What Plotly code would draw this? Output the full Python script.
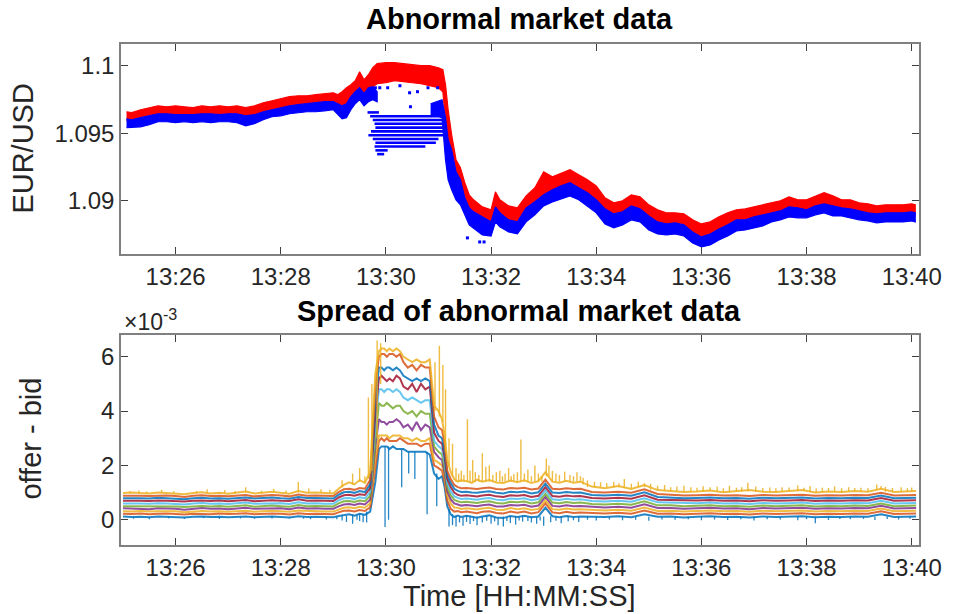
import plotly.graph_objects as go

FONT = "Liberation Sans, Arial, Helvetica, sans-serif"
SESSION_START = "13:25:00"          # time origin of every *_t array (seconds)
time_tick_labels = ["13:26", "13:28", "13:30", "13:32", "13:34", "13:36", "13:38", "13:40"]

# ---------------------------------------------------------------- quotes (EUR/USD)
# offer (ask) cloud: upper / lower edge of the quote cloud
t_offer = [4, 10, 20, 30, 40, 50, 60, 70, 80, 90, 100, 110, 120, 130, 140, 150, 160, 170, 180, 190,
           200, 210, 220, 230, 240, 245, 250, 255, 260, 265, 270, 275, 280, 285, 290, 300, 310, 320,
           330, 340, 350, 360, 365, 368, 371, 375, 380, 385, 390, 395, 400, 410, 420, 425, 430, 440,
           450, 460, 470, 480, 490, 500, 510, 520, 530, 540, 550, 560, 570, 580, 590, 600, 610, 620,
           630, 640, 650, 660, 670, 680, 690, 700, 710, 720, 730, 740, 750, 760, 770, 780, 790, 800,
           810, 820, 830, 840, 850, 860, 870, 880, 890, 900, 904]
offer_hi = [1.09658, 1.09651, 1.09673, 1.09688, 1.09702, 1.09695, 1.09702, 1.09695, 1.09688, 1.09702,
            1.09695, 1.09702, 1.09695, 1.09702, 1.09688, 1.09702, 1.09724, 1.09739, 1.09754, 1.09769,
            1.09776, 1.09776, 1.09784, 1.09791, 1.09798, 1.09784, 1.09806, 1.09835, 1.09857, 1.09887,
            1.09953, 1.09894, 1.09931, 1.09983, 1.10013, 1.10020, 1.10020, 1.10013, 1.10005, 1.09998,
            1.09998, 1.09983, 1.09968, 1.09857, 1.09673, 1.09488, 1.09304, 1.09244, 1.09134, 1.09045,
            1.09008, 1.08956, 1.08934, 1.09067, 1.09008, 1.08963, 1.08949, 1.09037, 1.09097, 1.09215,
            1.09178, 1.09207, 1.09230, 1.09193, 1.09156, 1.09111, 1.09023, 1.08986, 1.09001, 1.09045,
            1.09030, 1.08971, 1.08934, 1.08912, 1.08912, 1.08904, 1.08860, 1.08830, 1.08845, 1.08882,
            1.08912, 1.08934, 1.08941, 1.08956, 1.08971, 1.08986, 1.09001, 1.09030, 1.09008, 1.09008,
            1.09037, 1.09060, 1.09037, 1.09008, 1.09008, 1.08986, 1.08978, 1.08963, 1.08971, 1.08971,
            1.08971, 1.08978, 1.08971]
offer_lo = [1.09591, 1.09584, 1.09599, 1.09614, 1.09628, 1.09628, 1.09621, 1.09621, 1.09621, 1.09628,
            1.09628, 1.09621, 1.09628, 1.09628, 1.09614, 1.09621, 1.09643, 1.09658, 1.09673, 1.09688,
            1.09695, 1.09702, 1.09710, 1.09717, 1.09717, 1.09702, 1.09688, 1.09702, 1.09747, 1.09784,
            1.09806, 1.09776, 1.09821, 1.09843, 1.09865, 1.09872, 1.09887, 1.09880, 1.09872, 1.09865,
            1.09850, 1.09835, 1.09806, 1.09562, 1.09340, 1.09215, 1.09111, 1.09082, 1.08971, 1.08919,
            1.08897, 1.08860, 1.08838, 1.08919, 1.08897, 1.08845, 1.08830, 1.08904, 1.08949, 1.08993,
            1.09030, 1.09060, 1.09082, 1.09045, 1.09008, 1.08949, 1.08897, 1.08875, 1.08889, 1.08919,
            1.08904, 1.08852, 1.08815, 1.08801, 1.08808, 1.08793, 1.08749, 1.08712, 1.08734, 1.08771,
            1.08801, 1.08830, 1.08838, 1.08852, 1.08867, 1.08882, 1.08897, 1.08926, 1.08912, 1.08912,
            1.08934, 1.08956, 1.08934, 1.08934, 1.08926, 1.08912, 1.08904, 1.08897, 1.08897, 1.08897,
            1.08897, 1.08904, 1.08897]

# bid cloud before the disruption
t_bid_a = [4, 10, 20, 30, 40, 50, 60, 70, 80, 90, 100, 110, 120, 130, 140, 150, 160, 170, 180, 190,
           200, 210, 220, 230, 240, 245, 250, 255, 260, 265, 270, 275, 280, 285, 290]
bid_a_hi = [1.09606, 1.09599, 1.09614, 1.09628, 1.09643, 1.09643, 1.09636, 1.09636, 1.09636, 1.09643,
            1.09643, 1.09636, 1.09643, 1.09643, 1.09628, 1.09636, 1.09658, 1.09673, 1.09688, 1.09702,
            1.09710, 1.09717, 1.09724, 1.09732, 1.09732, 1.09717, 1.09702, 1.09717, 1.09769, 1.09806,
            1.09835, 1.09791, 1.09835, 1.09843, 1.09806]
bid_a_lo = [1.09540, 1.09540, 1.09547, 1.09562, 1.09584, 1.09584, 1.09577, 1.09584, 1.09577, 1.09584,
            1.09577, 1.09584, 1.09584, 1.09577, 1.09554, 1.09569, 1.09599, 1.09621, 1.09628, 1.09643,
            1.09651, 1.09658, 1.09658, 1.09665, 1.09673, 1.09643, 1.09606, 1.09614, 1.09673, 1.09717,
            1.09747, 1.09702, 1.09732, 1.09747, 1.09732]

# bid cloud after the disruption
t_bid_b = [351, 358, 364, 368, 371, 375, 380, 385, 390, 395, 400, 410, 420, 425, 430, 440, 450, 460,
           470, 480, 490, 500, 510, 520, 530, 540, 550, 560, 570, 580, 590, 600, 610, 620, 630, 640,
           650, 660, 670, 680, 690, 700, 710, 720, 730, 740, 750, 760, 770, 780, 790, 800, 810, 820,
           830, 840, 850, 860, 870, 880, 890, 900, 904]
bid_b_hi = [1.09717, 1.09732, 1.09747, 1.09614, 1.09451, 1.09377, 1.09215, 1.09156, 1.09023, 1.08949,
            1.08919, 1.08882, 1.08845, 1.08956, 1.08912, 1.08860, 1.08845, 1.08949, 1.08993, 1.09045,
            1.09082, 1.09111, 1.09134, 1.09097, 1.09060, 1.09008, 1.08941, 1.08904, 1.08919, 1.08963,
            1.08941, 1.08889, 1.08845, 1.08830, 1.08838, 1.08823, 1.08771, 1.08734, 1.08756, 1.08793,
            1.08823, 1.08860, 1.08860, 1.08882, 1.08897, 1.08912, 1.08926, 1.08956, 1.08949, 1.08934,
            1.08963, 1.08978, 1.08963, 1.08949, 1.08941, 1.08926, 1.08912, 1.08904, 1.08912, 1.08912,
            1.08912, 1.08919, 1.08912]
bid_b_lo = [1.09621, 1.09628, 1.09614, 1.09304, 1.09156, 1.09082, 1.09008, 1.08971, 1.08897, 1.08823,
            1.08801, 1.08749, 1.08741, 1.08845, 1.08808, 1.08771, 1.08756, 1.08845, 1.08897, 1.08963,
            1.08993, 1.09015, 1.09037, 1.09008, 1.08963, 1.08912, 1.08830, 1.08801, 1.08823, 1.08860,
            1.08845, 1.08786, 1.08756, 1.08749, 1.08756, 1.08741, 1.08690, 1.08660, 1.08675, 1.08712,
            1.08741, 1.08778, 1.08786, 1.08801, 1.08815, 1.08845, 1.08860, 1.08882, 1.08875, 1.08875,
            1.08897, 1.08912, 1.08889, 1.08889, 1.08875, 1.08860, 1.08852, 1.08838, 1.08845, 1.08845,
            1.08845, 1.08852, 1.08845]

# stale bid levels left in the book during the disruption
stripe_px = [1.09653, 1.09625, 1.09597, 1.09569, 1.09541, 1.09513, 1.09485, 1.09457, 1.09429, 1.09401,
             1.09373, 1.09345]
stripe_t0 = [279, 282, 285, 287, 288, 283, 280, 285, 288, 287, 288, 290]
stripe_t1 = [292, 367, 368, 368, 368, 368, 367, 360, 357, 345, 302, 298]

# isolated bid quotes
stray_bid_t = [288, 293, 302, 316, 327, 336, 348, 359, 328, 407, 412, 393]
stray_bid_px = [1.09835, 1.09835, 1.09835, 1.09850, 1.09798, 1.09806, 1.09835, 1.09835, 1.09695,
                1.08697, 1.08697, 1.08727]

# ---------------------------------------------------------------- spreads, in pips (1e-4)
t_spread = [0, 10, 20, 30, 40, 50, 60, 70, 80, 90, 100, 110, 120, 130, 140, 150, 160, 170, 180, 190,
            200, 210, 220, 230,
            240, 246, 252, 258, 264, 270, 276, 282, 288,
            292, 295, 298, 301, 304, 308, 312, 316, 320, 325, 330, 335, 340, 345, 350, 355, 360, 364, 367,
            370, 374, 378, 382, 386, 392, 398, 404, 410, 418, 426, 434, 442, 450, 458, 466, 474, 482,
            490, 498, 506, 514, 522,
            535, 550, 565, 580, 595, 610, 625, 640, 655, 670, 685, 700, 715, 730, 745, 760, 775, 790,
            805, 820, 835, 850, 865, 880, 895, 905]

spread_l1 = [1.2, 1.0, 1.1, 0.9, 1.2, 1.1, 1.0, 0.8, 1.1, 1.2, 1.0, 1.1, 0.9, 1.1, 1.2, 0.9, 1.1, 1.2, 1.0, 0.8, 1.3, 1.0, 1.1, 0.9,
             0.9, 1.4, 1.8, 2.0, 1.5, 2.2, 1.8, 3.0, 14,
             26, 27, 27, 27, 26, 27, 26, 26, 26, 25, 25, 25, 25, 25, 24, 17, 15, 16, 12,
             5, 2, 1.0, 1.5, 1.0, 1.5, 1.0, 0.7, 1.2, 1.6, 0.8, 0.6, 1.4, 1.0, 1.5, 0.9, 1.2, 4.5, 1.3, 0.9, 1.4, 1.0, 1.2,
             1.2, 1.0, 1.3, 0.9, 2.0, 1.1, 1.2, 0.8, 1.1, 1.3, 1.0, 1.1, 0.8, 1.2, 1.0, 1.1, 1.3, 0.9, 1.1, 1.0, 1.2, 1.1, 2.0, 1.0, 1.1, 1.2]
spread_l2 = [2.2, 2.1, 2.3, 2.0, 2.2, 2.3, 2.1, 1.9, 2.2, 2.2, 2.0, 2.3, 2.1, 2.2, 2.4, 2.0, 2.2, 2.3, 2.2, 1.9, 2.4, 2.1, 2.2, 2.0,
             2.0, 2.7, 3.3, 3.4, 3.0, 3.6, 3.2, 4.6, 20,
             29, 30, 29, 30, 29, 29, 29, 30, 29, 28, 28, 28, 27, 28, 28, 20, 19, 18, 14,
             7, 4, 3.0, 3.2, 2.8, 3.0, 2.6, 2.4, 2.9, 3.1, 2.5, 2.3, 3.0, 2.6, 3.0, 2.3, 2.8, 6.0, 2.7, 2.4, 2.9, 2.5, 2.7,
             2.5, 2.3, 2.6, 2.2, 3.4, 2.2, 2.3, 2.0, 2.2, 2.4, 2.1, 2.2, 1.9, 2.3, 2.1, 2.2, 2.4, 2.0, 2.2, 2.1, 2.3, 2.2, 3.1, 2.1, 2.2, 2.3]
spread_l3 = [3.1, 3.0, 3.2, 3.0, 3.1, 3.2, 3.1, 2.8, 3.0, 3.2, 3.0, 3.1, 2.9, 3.2, 3.3, 2.9, 3.1, 3.3, 3.1, 2.9, 3.4, 3.2, 3.1, 3.0,
             3.0, 3.8, 4.4, 4.6, 4.2, 4.8, 4.4, 6.0, 23,
             31, 31, 31, 31, 30, 31, 31, 31, 30, 30, 29, 30, 29, 29, 30, 22, 21, 20, 16,
             9, 6, 4.5, 4.4, 4.0, 4.2, 3.9, 3.8, 4.1, 4.4, 3.7, 3.6, 4.3, 3.9, 4.2, 3.6, 4.0, 7.1, 3.9, 3.7, 4.1, 3.8, 3.9,
             3.6, 3.4, 3.7, 3.3, 4.5, 3.2, 3.3, 3.0, 3.2, 3.4, 3.1, 3.2, 2.9, 3.3, 3.1, 3.2, 3.4, 3.0, 3.2, 3.1, 3.3, 3.2, 4.1, 3.1, 3.2, 3.3]
spread_l4 = [4.2, 4.1, 4.1, 3.9, 4.2, 4.2, 4.0, 3.7, 4.1, 4.3, 4.0, 4.1, 3.9, 4.1, 4.4, 4.0, 4.1, 4.3, 4.2, 3.9, 4.5, 4.1, 4.2, 4.0,
             4.0, 4.9, 5.6, 5.8, 5.4, 6.0, 5.6, 7.4, 27,
             37, 36, 36, 35, 36, 36, 37, 36, 34, 35, 33, 36, 33, 35, 34, 25, 23, 22, 17,
             10.5, 7.5, 6.0, 5.6, 5.2, 5.4, 5.1, 5.0, 5.3, 5.6, 4.9, 4.9, 5.4, 5.2, 5.5, 4.8, 5.2, 8.4, 5.1, 4.9, 5.3, 5.0, 5.1,
             4.7, 4.5, 4.8, 4.4, 5.7, 4.3, 4.3, 4.0, 4.2, 4.4, 4.1, 4.2, 3.9, 4.3, 4.1, 4.2, 4.4, 4.0, 4.2, 4.1, 4.3, 4.2, 5.1, 4.1, 4.2, 4.3]
spread_l5 = [5.0, 5.0, 5.1, 4.9, 5.1, 5.0, 4.9, 4.7, 5.0, 5.1, 4.9, 5.1, 4.8, 5.0, 5.3, 4.8, 5.1, 5.2, 5.0, 4.8, 5.4, 5.0, 5.1, 4.9,
             4.9, 6.0, 6.8, 6.9, 6.5, 7.1, 6.8, 8.8, 31,
             43, 42, 42, 43, 42, 41, 42, 42, 40, 39, 40, 38, 40, 39, 39, 27, 25, 24, 19,
             12, 9, 7.3, 6.8, 6.4, 6.6, 6.3, 6.2, 6.5, 6.8, 6.2, 6.0, 6.6, 6.4, 6.7, 6.0, 6.4, 9.5, 6.3, 6.1, 6.5, 6.2, 6.3,
             5.8, 5.6, 5.9, 5.5, 6.8, 5.3, 5.3, 5.0, 5.1, 5.3, 5.0, 5.1, 4.8, 5.2, 5.0, 5.1, 5.3, 4.9, 5.1, 5.0, 5.2, 5.1, 6.0, 5.0, 5.1, 5.2]
spread_l6 = [6.0, 6.1, 6.0, 5.9, 6.1, 6.0, 5.9, 5.6, 6.0, 6.2, 5.9, 6.0, 5.8, 6.1, 6.3, 5.9, 6.0, 6.2, 6.1, 5.8, 6.4, 6.0, 6.1, 5.9,
             5.9, 7.1, 7.9, 8.0, 7.6, 8.3, 7.9, 10.2, 35,
             48, 48, 47, 48, 48, 47, 48, 47, 45, 44, 45, 44, 43, 44, 44, 29, 27, 26, 21,
             13.5, 10.5, 8.6, 8.0, 7.6, 7.8, 7.5, 7.4, 7.7, 8.0, 7.4, 7.2, 7.8, 7.6, 7.9, 7.2, 7.6, 10.8, 7.5, 7.3, 7.7, 7.4, 7.5,
             6.9, 6.7, 7.0, 6.6, 7.9, 6.4, 6.3, 6.0, 6.1, 6.3, 6.0, 6.1, 5.8, 6.2, 6.0, 6.1, 6.3, 5.9, 6.1, 6.0, 6.2, 6.1, 7.0, 6.0, 6.1, 6.2]
spread_l7 = [7.0, 7.1, 7.0, 6.9, 7.1, 7.0, 6.9, 6.7, 7.0, 7.1, 6.9, 7.1, 6.8, 7.0, 7.3, 6.8, 7.0, 7.2, 7.0, 6.9, 7.5, 7.0, 7.1, 7.0,
             6.9, 8.2, 9.0, 9.2, 8.8, 9.4, 9.1, 11.6, 39,
             52, 53, 52, 51, 52, 51, 53, 52, 49, 48, 50, 47, 50, 48, 49, 32, 29, 28, 23,
             15, 12, 10.0, 9.2, 8.8, 9.0, 8.7, 8.6, 8.9, 9.2, 8.6, 8.4, 9.0, 8.8, 9.1, 8.4, 8.8, 12.0, 8.7, 8.5, 8.9, 8.6, 8.7,
             8.0, 7.8, 8.1, 7.7, 9.0, 7.4, 7.3, 7.0, 7.1, 7.3, 7.0, 7.1, 6.8, 7.2, 7.0, 7.1, 7.3, 6.9, 7.1, 7.0, 7.2, 7.1, 8.0, 7.0, 7.1, 7.2]
spread_l8 = [7.9, 8.0, 7.9, 7.8, 8.1, 7.9, 7.8, 7.5, 7.9, 8.1, 7.8, 7.9, 7.7, 8.0, 8.2, 7.8, 7.9, 8.2, 7.9, 7.7, 8.4, 8.0, 8.0, 7.9,
             7.8, 9.2, 10.1, 10.3, 9.9, 10.6, 10.2, 13.0, 44,
             56, 56, 55, 56, 56, 55, 56, 55, 53, 52, 51, 52, 51, 52, 51, 35, 31, 30, 25,
             16.5, 13.5, 11.4, 10.6, 10.2, 10.3, 10.0, 9.9, 10.2, 10.5, 9.9, 9.7, 10.3, 10.1, 10.4, 9.7, 10.1, 13.3, 10.0, 9.8, 10.2, 9.9, 10.0,
             9.1, 8.9, 9.2, 8.8, 10.1, 8.4, 8.2, 7.9, 8.0, 8.2, 7.9, 8.0, 7.7, 8.1, 7.9, 8.0, 8.2, 7.8, 8.0, 7.9, 8.1, 8.0, 8.9, 7.9, 8.0, 8.1]
spread_l9 = [8.8, 8.9, 8.8, 8.7, 8.9, 8.9, 8.7, 8.4, 8.8, 9.0, 8.7, 8.8, 8.6, 8.9, 9.1, 8.6, 8.8, 9.1, 8.9, 8.6, 9.3, 8.8, 8.9, 8.8,
             8.7, 10.2, 11.2, 11.4, 11.0, 11.7, 11.4, 14.6, 49,
             60, 61, 61, 60, 61, 61, 60, 61, 58, 56, 57, 55, 57, 56, 56, 38, 34, 33, 28,
             18, 15, 12.8, 12.0, 11.6, 11.7, 11.4, 11.3, 11.6, 11.9, 11.3, 11.1, 11.7, 11.5, 11.8, 11.1, 11.5, 14.8, 11.4, 11.2, 11.6, 11.3, 11.4,
             10.2, 10.0, 10.3, 9.9, 11.2, 9.5, 9.2, 8.9, 9.0, 9.2, 8.9, 9.0, 8.7, 9.1, 8.9, 9.0, 9.2, 8.8, 9.0, 8.9, 9.1, 9.0, 9.9, 8.9, 9.0, 9.1]
spread_l10 = [9.8, 10.0, 9.8, 9.7, 10.0, 9.8, 9.7, 9.4, 9.8, 10.1, 9.7, 9.9, 9.6, 9.9, 10.4, 9.7, 9.9, 10.3, 9.9, 9.6, 10.6, 9.9, 10.0, 9.8,
              9.7, 11.4, 12.8, 13.8, 13.0, 14.6, 13.6, 17.5, 54,
              62, 63, 63, 62, 63, 62, 63, 62, 60, 59, 58, 59, 58, 58, 59, 42, 40, 37, 31,
              22, 17.5, 15, 14, 14.5, 14.2, 13.6, 14.8, 14.0, 14.6, 13.7, 13.5, 14.4, 13.8, 14.5, 13.5, 14.2, 17.5, 14.0, 13.6, 14.3, 13.6, 14.0,
              12.2, 11.6, 12.4, 11.3, 12.8, 10.9, 10.6, 10.2, 10.4, 10.8, 10.1, 10.5, 10.9, 10.3, 10.2, 10.6, 10.9, 10.0, 10.4, 10.2, 10.6, 10.3, 11.4, 10.2, 10.4, 10.6]

# short-lived jumps of the widest level: (time s, level before, peak), pips
widest_level_jumps = [
    (8, 9.8, 10.6), (18, 9.8, 10.8), (27, 9.7, 10.4), (44, 10, 11), (58, 9.7, 10.5),
    (84, 9.8, 10.6), (96, 10, 11.2), (116, 9.9, 10.9), (128, 9.7, 10.6), (140, 10, 12),
    (158, 9.8, 10.7), (172, 10.2, 11.3), (186, 9.9, 10.8), (200, 10, 13.9), (212, 10, 11.5),
    (226, 10, 11.2), (236, 9.8, 11),
    (250, 12, 14.5), (262, 13, 17), (270, 14, 19), (276, 13.6, 16), (280, 15, 45), (284, 18, 50),
    (290, 30, 66), (294, 50, 65),
    (356, 40, 58), (361, 38, 64), (365, 36, 57), (368, 25, 48),
    (372, 20, 30), (376, 16, 28), (380, 14, 19), (383, 14, 17), (386, 14, 18), (389, 14, 16.5),
    (393, 14, 37), (396, 14, 18), (399, 14, 22), (402, 14, 17.5), (406, 14, 16.5), (410, 14, 24.5),
    (414, 14, 19.5), (418, 14, 20), (422, 14, 16.5), (426, 14, 17.5), (430, 14, 18), (433, 14, 16),
    (436, 14, 17), (440, 14, 19), (443, 14, 16), (446, 14, 16.8), (450, 14, 17.5), (454, 14, 29.5),
    (458, 14, 17), (462, 14, 18.5), (466, 14, 16), (470, 14, 20), (474, 14, 17), (478, 14, 16),
    (483, 16, 22.5), (486, 16, 20), (490, 14, 18), (494, 14, 17), (498, 14, 16.5), (504, 14, 17.7),
    (510, 14, 16.5), (514, 14, 16), (518, 14, 17.5), (522, 14, 16),
    (525, 13, 15.5), (530, 12, 14.5), (538, 12, 14), (545, 12, 13.8), (552, 12, 13.5), (560, 12, 14),
    (566, 12, 13.4), (572, 12, 15), (580, 11.5, 13.2), (588, 12, 14), (595, 12, 13.5), (602, 11, 13.2),
    (610, 11, 12.5), (618, 10.8, 12.8), (625, 10.6, 12), (632, 10.5, 12.2), (640, 10.5, 12.5),
    (648, 10.3, 12), (655, 10.4, 11.8), (662, 10.4, 12.3), (670, 10.6, 12), (678, 10.5, 12.1),
    (685, 10.3, 11.6), (692, 10.3, 12.5), (700, 10.4, 11.8), (706, 10.4, 12), (713, 10.5, 13.6),
    (722, 10.4, 12.2), (730, 10.3, 11.7), (738, 10.3, 11.9), (745, 10.2, 11.6), (752, 10.2, 12),
    (760, 10.5, 11.9), (770, 10.5, 12.6), (777, 10.6, 11.8), (784, 10.2, 12.4), (791, 10.1, 11.5),
    (798, 10.3, 11.8), (805, 10.4, 11.7), (812, 10.3, 12.3), (820, 10.2, 11.6), (828, 10.4, 12),
    (835, 10.5, 11.7), (842, 10.4, 11.8), (850, 10.3, 11.6), (860, 11, 13), (865, 11.3, 12.4),
    (870, 10.3, 12.1), (878, 10.2, 11.7), (888, 10.4, 12), (895, 10.4, 11.6), (900, 10.5, 11.9),
]
# short-lived drops of the tightest level: (time s, level before, trough), pips
tightest_level_drops = [
    (12, 1.0, 0.4), (30, 0.9, 0.2), (52, 1.1, 0.5), (70, 1.0, 0.3), (92, 1.2, 0.6), (110, 1.1, 0.3),
    (134, 1.1, 0.5), (150, 1.0, 0.4), (170, 1.2, 0.5), (190, 1.0, 0.5), (206, 1.1, 0.4),
    (214, 1.0, 0.2), (232, 0.9, 0.1),
    (244, 1.1, 0.2), (250, 1.6, -0.3), (255, 1.5, -0.8), (262, 2.0, -1.5), (267, 1.8, 0),
    (270, 2.0, -0.5), (274, 2.0, -0.9), (278, 3.0, -1.0),
    (299, 27, -2.7), (303, 27, 0), (318, 26, 12), (326, 25, 17), (333, 25, 15), (347, 25, 2),
    (358, 17, 5),
    (372, 4, -2.5), (376, 2, -2), (380, 1.5, -2.5), (384, 1.2, -1.0), (388, 1.0, -2.2),
    (392, 1.5, -0.8), (396, 1.5, -1.6), (400, 1.2, -0.5), (404, 1.2, -2.0), (410, 1.2, -1.0),
    (415, 1.4, -0.4), (420, 1.2, -1.5), (424, 1.0, -0.6), (428, 0.8, -2.0), (434, 1.2, -2.5),
    (438, 1.0, -0.5), (442, 1.4, -1.2), (448, 1.2, -1.8), (452, 1.1, -0.3), (456, 1.5, -0.7),
    (462, 1.1, -0.5), (466, 1.2, -1.0), (472, 1.2, -1.5), (476, 1.2, -0.3), (480, 1.2, -2.2),
    (488, 1.3, -0.9), (494, 1.0, -0.4), (500, 1.2, -1.3), (508, 1.4, -0.6), (514, 1.0, -0.2),
    (520, 1.2, -0.8),
    (530, 1.2, 0), (540, 1.1, -0.3), (555, 1.0, 0.1), (570, 1.2, -0.2), (585, 1.0, 0),
    (600, 1.1, -0.4), (615, 1.1, 0.1), (630, 1.2, 0), (645, 1.1, 0.2), (660, 1.1, -0.2),
    (675, 1.2, 0.1), (690, 1.0, -0.1), (705, 1.1, 0.2), (720, 1.1, -0.3), (735, 1.0, 0.2),
    (750, 1.0, 0.1), (770, 1.1, -0.2), (780, 1.1, 0.2), (790, 1.1, -1.3), (805, 1.1, -0.1),
    (818, 1.0, 0.3), (830, 1.2, 0.2), (845, 1.1, 0.3), (858, 1.1, -0.1), (872, 1.2, 0.3),
    (885, 1.1, 0.1), (898, 1.2, 0.4),
]

level_colors = ["#0072BD", "#D95319", "#EDB120", "#7E2F8E", "#77AC30",
                "#4DBEEE", "#A2142F", "#0072BD", "#D95319", "#EDB120"]

# ---------------------------------------------------------------- helpers
PIP_TO_E3 = 0.1   # 1 pip = 1e-4 = 0.1 x 1e-3


def secs(label):
    h, m = label.split(":")[:2]
    h0, m0, s0 = (int(v) for v in SESSION_START.split(":"))
    return int(h) * 3600 + int(m) * 60 - (h0 * 3600 + m0 * 60 + s0)


def band(t, hi, lo):
    return list(t) + list(t)[::-1], list(hi) + list(lo)[::-1]


def segments(xs0, xs1, ys0, ys1):
    x, y = [], []
    for a, b, c, d in zip(xs0, xs1, ys0, ys1):
        x += [a, b, None]
        y += [c, d, None]
    return x, y


def vertical_ticks(events):
    ts = [e[0] for e in events]
    return segments(ts, ts, [e[1] * PIP_TO_E3 for e in events], [e[2] * PIP_TO_E3 for e in events])


fig = go.Figure()

# -------- top panel: offer / bid clouds
ox, oy = band(t_offer, offer_hi, offer_lo)
fig.add_trace(go.Scatter(x=ox, y=oy, fill="toself", fillcolor="#FF0000", mode="lines",
                         line=dict(color="#FF0000", width=1.2), xaxis="x", yaxis="y",
                         hoverinfo="skip", showlegend=False))
for tt, hi, lo in ((t_bid_a, bid_a_hi, bid_a_lo), (t_bid_b, bid_b_hi, bid_b_lo)):
    bx, by = band(tt, hi, lo)
    fig.add_trace(go.Scatter(x=bx, y=by, fill="toself", fillcolor="#0000FF", mode="lines",
                             line=dict(color="#0000FF", width=1.2), xaxis="x", yaxis="y",
                             hoverinfo="skip", showlegend=False))
sx, sy = segments(stripe_t0, stripe_t1, stripe_px, stripe_px)
fig.add_trace(go.Scatter(x=sx, y=sy, mode="lines", line=dict(color="#0000FF", width=2.6),
                         xaxis="x", yaxis="y", hoverinfo="skip", showlegend=False))
fig.add_trace(go.Scatter(x=stray_bid_t, y=stray_bid_px, mode="markers",
                         marker=dict(symbol="square", size=3, color="#0000FF"),
                         xaxis="x", yaxis="y", hoverinfo="skip", showlegend=False))

# -------- bottom panel: spread per book level
dx, dy = vertical_ticks(tightest_level_drops)
fig.add_trace(go.Scatter(x=dx, y=dy, mode="lines", line=dict(color=level_colors[0], width=1.3),
                         opacity=0.85, xaxis="x2", yaxis="y2", hoverinfo="skip", showlegend=False))
levels = [spread_l1, spread_l2, spread_l3, spread_l4, spread_l5,
          spread_l6, spread_l7, spread_l8, spread_l9, spread_l10]
for vals, col in zip(levels, level_colors):
    fig.add_trace(go.Scatter(x=t_spread, y=[v * PIP_TO_E3 for v in vals], mode="lines",
                             line=dict(color=col, width=2.0), opacity=0.85,
                             xaxis="x2", yaxis="y2", hoverinfo="skip", showlegend=False))
ux, uy = vertical_ticks(widest_level_jumps)
fig.add_trace(go.Scatter(x=ux, y=uy, mode="lines", line=dict(color=level_colors[9], width=1.4),
                         opacity=0.85, xaxis="x2", yaxis="y2", hoverinfo="skip", showlegend=False))

# -------- axes
AX = "#808080"
TICK_FONT = dict(family=FONT, size=24, color="#262626")
tick_secs = [secs(s) for s in time_tick_labels]
common = dict(showline=True, linecolor=AX, linewidth=1.5, mirror="ticks", ticks="inside",
              ticklen=7, tickwidth=1.3, tickcolor="#404040", showgrid=False, zeroline=False,
              tickfont=TICK_FONT)
xcommon = dict(common, range=[-2.3, 908.3], tickvals=tick_secs, ticktext=time_tick_labels)

W, H = 954, 614
ML, MR, MT, MB = 121, 30, 44, 69
plot_h = H - MT - MB
top_box = (44, 254)
bot_box = (335, 545)


def py(ypx):
    return (H - MB - ypx) / plot_h


def px(xpx):
    return (xpx - ML) / (W - ML - MR)


fig.update_layout(
    width=W, height=H, margin=dict(l=ML, r=MR, t=MT, b=MB),
    paper_bgcolor="white", plot_bgcolor="white",
    xaxis=dict(xcommon, domain=[0, 1], anchor="y"),
    yaxis=dict(common, domain=[py(top_box[1]), py(top_box[0])], anchor="x",
               range=[1.08608, 1.10158], tickvals=[1.09, 1.095, 1.1],
               ticktext=["1.09", "1.095", "1.1"]),
    xaxis2=dict(xcommon, domain=[0, 1], anchor="y2"),
    yaxis2=dict(common, domain=[py(bot_box[1]), py(bot_box[0])], anchor="x2",
                range=[-0.93, 6.8], tickvals=[0, 2, 4, 6], ticktext=["0", "2", "4", "6"]),
    showlegend=False,
)

TITLE_FONT = dict(family=FONT, size=29, color="black")
LABEL_FONT = dict(family=FONT, size=29, color="#262626")
notes = [
    dict(text="<b>Abnormal market data</b>", x=px(521.5), y=py(19), font=TITLE_FONT),
    dict(text="<b>Spread of abnormal market data</b>", x=px(521.5), y=py(311), font=TITLE_FONT),
    dict(text="Time [HH:MM:SS]", x=px(521.5), y=py(596), font=LABEL_FONT),
    dict(text="EUR/USD", x=px(22), y=py(148), font=LABEL_FONT, textangle=-90),
    dict(text="offer - bid", x=px(30), y=py(439), font=LABEL_FONT, textangle=-90),
    dict(text="×10<sup>-3</sup>", x=px(122), y=py(320), xanchor="left",
         font=dict(family=FONT, size=23, color="#262626")),
]
for n in notes:
    base = dict(xref="paper", yref="paper", showarrow=False, xanchor="center", yanchor="middle")
    base.update(n)
    fig.add_annotation(**base)

fig.write_html("out.html")
